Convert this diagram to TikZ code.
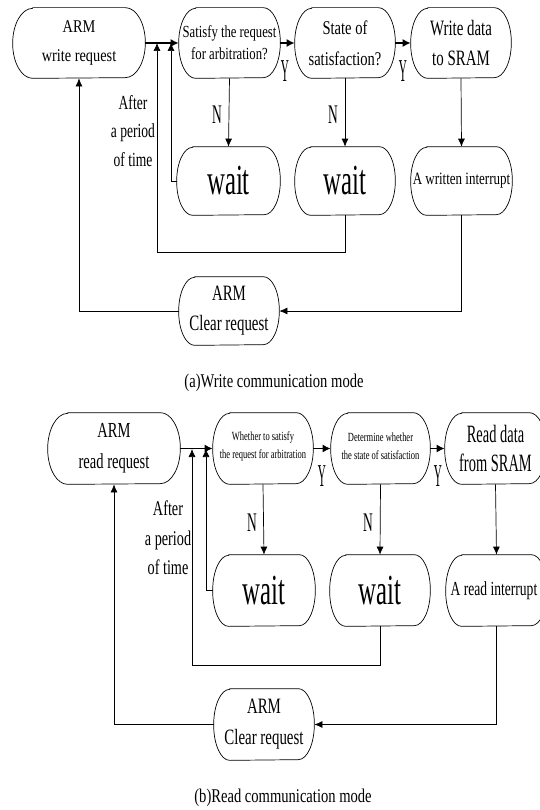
\documentclass[tikz,border=0pt]{standalone}
\usepackage{fontspec}
\setmainfont{Liberation Serif}
\newfontfamily\fA{Liberation Serif}[FakeStretch=0.8]
\newfontfamily\fB{Liberation Serif}[FakeStretch=0.75]
\newfontfamily\fC{Liberation Serif}[FakeStretch=0.68]
\newfontfamily\fD{Liberation Serif}[FakeStretch=0.58]
\newfontfamily\fE{Liberation Serif}[FakeStretch=0.5]
\newfontfamily\fF{Liberation Serif}[FakeStretch=0.35]
\usetikzlibrary{arrows.meta}
% name, cx, cy (down), w, h, rx
\newcommand\tbx[6]{%
  \node[minimum width=#4bp, minimum height=#5bp, inner sep=0pt] (#1) at (#2,-#3) {};
  \draw ([xshift=#6bp]#1.north west) -- ([xshift=-#6bp]#1.north east)
    arc[start angle=90,end angle=-90,x radius=#6bp,y radius=#5bp/2]
    -- ([xshift=#6bp]#1.south west)
    arc[start angle=270,end angle=90,x radius=#6bp,y radius=#5bp/2] -- cycle;
}
\begin{document}
\begin{tikzpicture}[x=1bp,y=1bp, line width=0.7bp,
  txt/.style={align=center, inner sep=0pt},
  flow/.style={-{Latex[length=8bp,width=7bp]}},
  thickflow/.style={-{Latex[length=8bp,width=8bp]}, line width=1.4bp},
  lblN/.style={inner sep=0pt, font=\fE\fontsize{27}{27}\selectfont},
  lblY/.style={inner sep=0pt, font=\fF\fontsize{32}{32}\selectfont}]
\useasboundingbox (0,0) rectangle (540,-810);

% ================= (a) write =================
\tbx{n1}{79}{43}{132}{70}{20}
\node[txt, font=\fA\fontsize{18}{30}\selectfont] (n1t) at (n1) {ARM\\write request};
\tbx{n2}{229.5}{43}{101}{70}{17}
\node[txt, font=\fB\fontsize{17}{22}\selectfont] (n2t) at (n2) {Satisfy the request\\for arbitration?};
\tbx{n3}{345}{43}{100}{70}{17}
\node[txt, font=\fB\fontsize{19.5}{31}\selectfont] (n3t) at (n3) {State of\\satisfaction?};
\tbx{n4}{461}{43}{100}{70}{17}
\node[txt, font=\fC\fontsize{22}{31}\selectfont] (n4t) at (n4) {Write data\\to SRAM};

\tbx{w1}{228.5}{181}{103}{68}{16}
\node[txt, font=\fD\fontsize{43}{43}\selectfont] (w1t) at (w1) {wait};
\tbx{w2}{345}{181}{100}{68}{16}
\node[txt, font=\fD\fontsize{43}{43}\selectfont] (w2t) at (w2) {wait};
\tbx{w3}{461.5}{181}{101}{68}{16}
\node[txt, font=\fB\fontsize{17.4}{20}\selectfont] (w3t) at (w3) {A written interrupt};

\tbx{c1}{229}{311}{100}{68}{16}
\node[txt, font=\fC\fontsize{22}{30}\selectfont] (c1t) at (c1) {ARM\\Clear request};

\coordinate (ja) at (171,-43);
\coordinate (jb) at (157,-43);
\draw[thickflow] (n1.east) -- (n2.west);
\draw[thickflow] (n2.east) -- (n3.west);
\draw[thickflow] (n3.east) -- (n4.west);
\draw[flow] (n2.south) -- (w1.north);
\draw[flow] (n3.south) -- (w2.north);
\draw[flow] (n4.south) -- (w3.north);
\draw[flow] (w1.west) -| (ja);
\draw[flow] (w2.south) -- ++(0,-37) -| (jb);
\draw[flow] (w3.south) |- (c1.east);
\draw[flow] (c1.west) -| (n1.south);

\node[lblY] (ya1) at (285,-71) {Y};
\node[lblY] (ya2) at (403,-71) {Y};
\node[lblN] (na1) at (217,-115) {N};
\node[lblN] (na2) at (333,-115) {N};
\node[txt, font=\fC\fontsize{20}{29}\selectfont] (aft1) at (133,-131) {After\\a period\\of time};

\node[txt, font=\fB\fontsize{19.5}{20}\selectfont] (capa) at (274,-383) {(a)Write communication mode};

% ================= (b) read =================
\tbx{m1}{114}{448.5}{132}{71}{20}
\node[txt, font=\fC\fontsize{21.5}{31}\selectfont] (m1t) at (m1) {ARM\\read request};
\tbx{m2}{263}{448.5}{100}{71}{17}
\node[txt, font=\fC\fontsize{12.5}{18}\selectfont] (m2t) at ([yshift=2bp]m2) {Whether to satisfy\\the request for arbitration};
\tbx{m3}{380.5}{448.5}{99}{71}{17}
\node[txt, font=\fC\fontsize{12.5}{18}\selectfont] (m3t) at ([yshift=2bp]m3) {Determine whether\\the state of satisfaction};
\tbx{m4}{495.5}{448.5}{101}{71}{17}
\node[txt, font=\fD\fontsize{25}{30}\selectfont] (m4t) at (m4) {Read data\\from SRAM};

\tbx{v1}{264}{590.5}{102}{71}{16}
\node[txt, font=\fD\fontsize{43}{43}\selectfont] (v1t) at (v1) {wait};
\tbx{v2}{380}{590.5}{100}{71}{16}
\node[txt, font=\fD\fontsize{43}{43}\selectfont] (v2t) at (v2) {wait};
\tbx{v3}{496.5}{590.5}{101}{71}{16}
\node[txt, font=\fC\fontsize{20}{22}\selectfont] (v3t) at ([xshift=-2.5bp]v3) {A read interrupt};

\tbx{d1}{264}{724.5}{100}{71}{16}
\node[txt, font=\fC\fontsize{22}{31}\selectfont] (d1t) at (d1) {ARM\\Clear request};

\coordinate (jc) at (206,-449);
\coordinate (jd) at (192,-449);
\draw[thickflow] (m1.east) -- (m2.west);
\draw[thickflow] (m2.east) -- (m3.west);
\draw[thickflow] (m3.east) -- (m4.west);
\draw[flow] (m2.south) -- (v1.north);
\draw[flow] (m3.south) -- (v2.north);
\draw[flow] (m4.south) -- (v3.north);
\draw[flow] (v1.west) -| (jc);
\draw[flow] (v2.south) -- ++(0,-39) -| (jd);
\draw[flow] (v3.south) |- (d1.east);
\draw[flow] (d1.west) -| (m1.south);

\node[lblY] (yb1) at (322,-476) {Y};
\node[lblY] (yb2) at (438,-476) {Y};
\node[lblN] (nb1) at (252,-523) {N};
\node[lblN] (nb2) at (368,-523) {N};
\node[txt, font=\fC\fontsize{21}{29.5}\selectfont] (aft2) at (168,-538) {After\\a period\\of time};

\node[txt, font=\fB\fontsize{19.5}{20}\selectfont] (capb) at (283,-798) {(b)Read communication mode};
\end{tikzpicture}
\end{document}
